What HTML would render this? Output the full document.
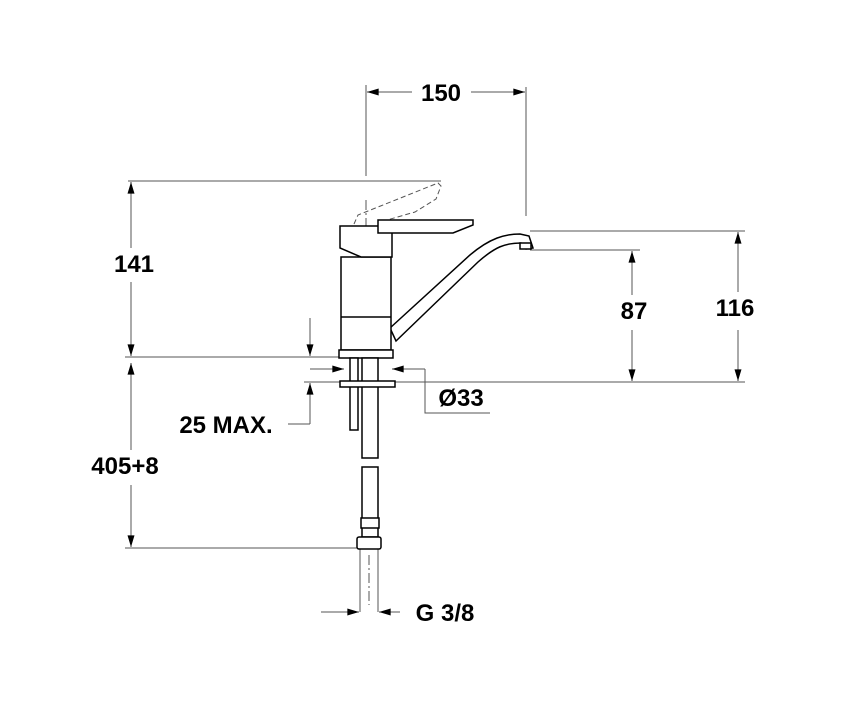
<!DOCTYPE html>
<html><head><meta charset="utf-8"><style>
html,body{margin:0;padding:0;background:#fff;}
svg{display:block;}
text{font-family:"Liberation Sans",Arial,sans-serif;font-weight:bold;fill:#000;}
</style></head><body>
<svg width="850" height="702" viewBox="0 0 850 702" xmlns="http://www.w3.org/2000/svg">
<defs>
<marker id="a" viewBox="0 0 10 6" refX="10" refY="3" markerWidth="20" markerHeight="7" orient="auto-start-reverse" markerUnits="userSpaceOnUse"><path d="M0,0 L10,3 L0,6Z" fill="#000"/></marker>
</defs>
<g stroke="#555" stroke-width="1" fill="none">
<line x1="366" y1="85" x2="366" y2="176"/>
<line x1="526" y1="87" x2="526" y2="216"/>
<line x1="367" y1="92" x2="412" y2="92" marker-start="url(#a)"/>
<line x1="471" y1="92" x2="525" y2="92" marker-end="url(#a)"/>
<line x1="128" y1="181" x2="441" y2="181"/>
<line x1="125" y1="357" x2="340" y2="357"/>
<line x1="131" y1="182" x2="131" y2="248" marker-start="url(#a)"/>
<line x1="131" y1="282" x2="131" y2="356" marker-end="url(#a)"/>
<line x1="131" y1="363" x2="131" y2="450" marker-start="url(#a)"/>
<line x1="131" y1="485" x2="131" y2="547" marker-end="url(#a)"/>
<line x1="125" y1="548" x2="358" y2="548"/>
<line x1="530" y1="231" x2="745" y2="231"/>
<line x1="395" y1="382" x2="745" y2="382"/>
<line x1="530" y1="250" x2="640" y2="250"/>
<line x1="738" y1="232" x2="738" y2="292" marker-start="url(#a)"/>
<line x1="738" y1="330" x2="738" y2="381" marker-end="url(#a)"/>
<line x1="632" y1="251" x2="632" y2="295" marker-start="url(#a)"/>
<line x1="632" y1="330" x2="632" y2="381" marker-end="url(#a)"/>
<line x1="310" y1="318" x2="310" y2="356" marker-end="url(#a)"/>
<line x1="310" y1="424" x2="310" y2="383" marker-end="url(#a)"/>
<line x1="288" y1="424" x2="310" y2="424"/>
<line x1="304" y1="382" x2="340" y2="382"/>
<line x1="310" y1="369" x2="344" y2="369" marker-end="url(#a)"/>
<line x1="425" y1="369" x2="392" y2="369" marker-end="url(#a)"/>
<polyline points="425,369 425,413 490,413"/>
<line x1="321" y1="612" x2="359" y2="612" marker-end="url(#a)"/>
<line x1="400" y1="612" x2="379" y2="612" marker-end="url(#a)"/>
<line x1="360" y1="548" x2="360" y2="612"/>
<line x1="378" y1="548" x2="378" y2="612"/>
<line x1="366" y1="200" x2="366" y2="355" stroke-dasharray="10,3,2,3"/>
<line x1="369" y1="555" x2="369" y2="605" stroke-dasharray="10,3,2,3"/>
<polyline points="354,224 358,215 438,183 441,186 436,199 415,212 380,222" stroke-dasharray="5,3"/>
</g>
<g stroke="#000" stroke-width="1.5" fill="#fff">
<path d="M390,328 L470,255 C490,238 505,234 520,234 L529,236 L533,248 L526,249 L521,243 C505,243 495,247 478,262 L396,341 Z"/>
<rect x="520" y="243" width="11" height="6"/>
<rect x="341" y="257" width="50" height="93"/>
<line x1="341" y1="317" x2="391" y2="317"/>
<path d="M340,226 L392,226 L392,257 L361,257 L340,248 Z"/>
<path d="M378,220 L473,220 L473,225 L453,233 L392,233 L378,233 Z"/>
<rect x="339" y="350" width="54" height="8"/>
<rect x="350" y="358" width="8" height="72"/>
<rect x="362" y="358" width="16" height="100"/>
<rect x="340" y="381" width="55" height="6"/>
<rect x="362" y="467" width="16" height="70"/>
<rect x="361" y="518" width="18" height="10"/>
<rect x="357" y="537" width="24" height="12" rx="2"/>
</g>
<g font-size="24">
<text x="441" y="101" text-anchor="middle">150</text>
<text x="134" y="272" text-anchor="middle">141</text>
<text x="735" y="316" text-anchor="middle">116</text>
<text x="634" y="319" text-anchor="middle">87</text>
<text x="125" y="474" text-anchor="middle">405+8</text>
<text x="226" y="433" text-anchor="middle">25 MAX.</text>
<text x="461" y="406" text-anchor="middle">Ø33</text>
<text x="445" y="621" text-anchor="middle">G 3/8</text>
</g>
</svg>
</body></html>
